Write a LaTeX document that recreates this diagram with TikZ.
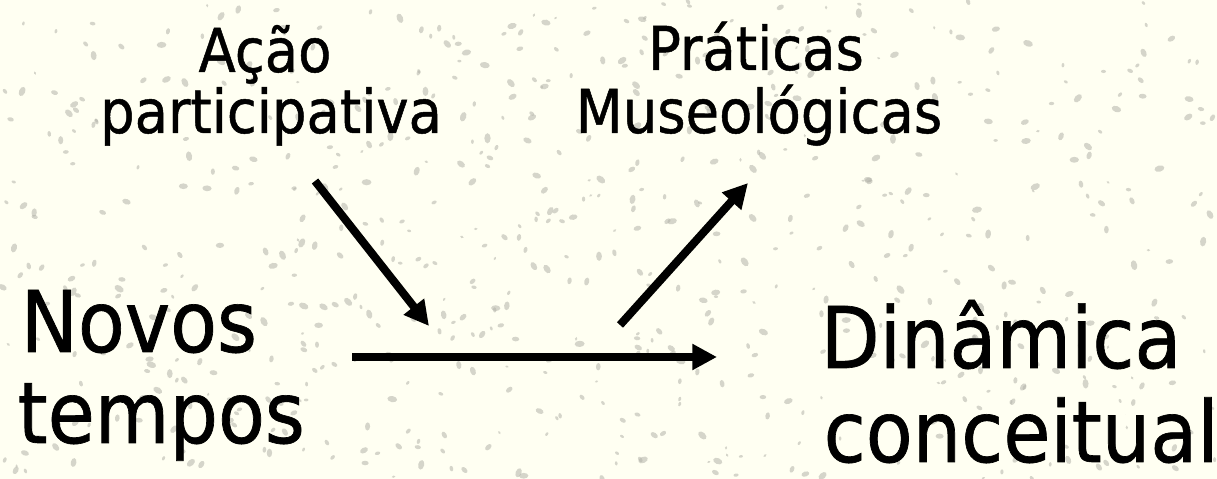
\documentclass[tikz,border=0pt]{standalone}
\usepackage{fontspec}
\setmainfont{DejaVu Sans}[FakeStretch=0.9,FakeBold=0.8]
\usetikzlibrary{arrows.meta}
\definecolor{bgcol}{HTML}{FFFFF2}
\definecolor{speck}{HTML}{B4B4AA}
\begin{document}
\begin{tikzpicture}[x=0.01cm,y=-0.01cm,
  big/.style={font=\fontsize{24.2pt}{26pt}\selectfont, inner sep=0pt, anchor=base west},
  small/.style={font=\fontsize{17.2pt}{18pt}\selectfont, inner sep=0pt, anchor=base},
  arr/.style={line width=2.3pt, -{Triangle[length=7pt,width=7pt]}}]
\fill[bgcol] (0,0) rectangle (1217,479);
\useasboundingbox (0,0) rectangle (1217,479);
\pgfmathsetseed{7}
\foreach \i in {1,...,700}{
  \pgfmathsetmacro\sx{rnd*1217}
  \pgfmathsetmacro\sy{rnd*479}
  \pgfmathsetmacro\sr{0.3+rnd*0.6}
  \pgfmathsetmacro\sa{rnd*180}
  \fill[speck, opacity=0.55, rotate around={\sa:(\sx,\sy)}] (\sx,\sy) ellipse [x radius=\sr*1.6pt, y radius=\sr pt];
}
\node[big] (novos) at (20,352) {Novos};
\node[big] (tempos) at (17,443) {tempos};
\node[big] (dinamica) at (820,368) {Dinâmica};
\node[big] (conceitual) at (823,462) {conceitual};
\node[small] (acao) at (265,72) {Ação};
\node[small] (particip) at (271,133) {participativa};
\node[small] (praticas) at (756,70) {Práticas};
\node[small] (museo) at (759,133) {Museológicas};
\coordinate (h1) at (352,357);
\coordinate (h2) at (717,357);
\coordinate (d1) at (315,181);
\coordinate (d2) at (429,326);
\coordinate (u1) at (620,325);
\coordinate (u2) at (748,183);
\draw[arr] (h1) -- (h2);
\draw[arr] (d1) -- (d2);
\draw[arr] (u1) -- (u2);
\end{tikzpicture}
\end{document}
